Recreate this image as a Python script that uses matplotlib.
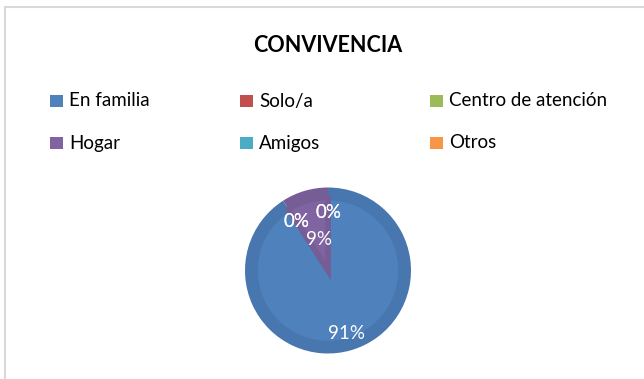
import matplotlib
matplotlib.use("Agg")
import matplotlib.pyplot as plt
from matplotlib.patches import Rectangle
import numpy as np

plt.rcParams['font.family'] = ['Lato', 'DejaVu Sans']

# datos de convivencia
categorias = ["En familia", "Solo/a", "Centro de atención", "Hogar", "Amigos", "Otros"]
valores = [10, 0, 0, 1, 0, 0]
colores = ["#4F81BD", "#C0504D", "#9BBB59", "#8064A2", "#4BACC6", "#F79646"]
colores_borde = ["#4876AE", "#B04A47", "#8EAC52", "#765D96", "#45A0B8", "#E58B41"]
dist_etiquetas = [0.79, 0.70, 0.70, 0.39, 0.70, 0.70]

W, H = 644, 379
fig = plt.figure(figsize=(W / 100, H / 100), dpi=100)
fig.patch.set_facecolor("white")

# marco del grafico
fig.add_artist(Rectangle((5 / W, -0.1), 1.2, 1 - 7 / H + 0.1, transform=fig.transFigure,
                         facecolor="none", edgecolor="#D9D9D9", linewidth=1.5))

fig.text(327.5 / W, 1 - 46 / H, "CONVIVENCIA", ha="center", va="center",
         fontsize=15.5, fontweight="bold", color="#000000")

# leyenda en 2 filas x 3 columnas
for i, (cat, col) in enumerate(zip(categorias, colores)):
    fila, columna = divmod(i, 3)
    x0 = 50 + columna * 190
    yc = 101 + fila * 42
    fig.add_artist(Rectangle((x0 / W, 1 - (yc + 6) / H), 13 / W, 12 / H,
                             transform=fig.transFigure, facecolor=col, edgecolor="none"))
    fig.text((x0 + 19) / W, 1 - yc / H, cat, ha="left", va="center",
             fontsize=13.5, color="#000000")

# pastel con borde biselado
cx, cy, r = 328, 270.5, 83
ax = fig.add_axes([(cx - r) / W, (H - cy - r) / H, 2 * r / W, 2 * r / H])
ax.pie(valores, colors=colores_borde, startangle=90, counterclock=False, radius=1)
cuñas, _, textos = ax.pie(valores, colors=colores, startangle=90, counterclock=False,
                          radius=0.88, autopct="%1.0f%%",
                          textprops=dict(color="white", fontsize=13.5))
for cuña, borde, v in zip(cuñas, colores_borde, valores):
    if v > 0:
        cuña.set_edgecolor(borde)
        cuña.set_linewidth(4)

for cuña, txt, d in zip(cuñas, textos, dist_etiquetas):
    ang = np.deg2rad((cuña.theta1 + cuña.theta2) / 2)
    txt.set_position((d * np.cos(ang), d * np.sin(ang)))

ax.set_xlim(-1, 1)
ax.set_ylim(-1, 1)
ax.axis("off")

fig.savefig("out.png", dpi=100, facecolor="white")
